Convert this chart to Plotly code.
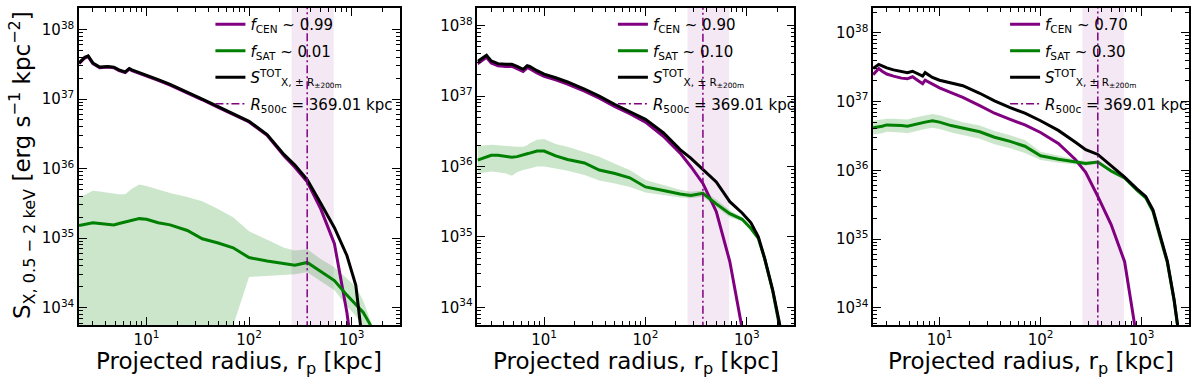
import numpy as np
import plotly.graph_objects as go

# projected radius grid [kpc]
radius = [2.2, 2.5, 2.7, 3.0, 3.5, 4.2, 4.8, 5.4, 6.2, 6.8, 7.2, 8.5, 10, 13, 17, 25, 35, 50,
          70, 100, 150, 220, 280, 369, 500, 680, 900, 1100, 1300, 1500, 1800, 2100, 2400]

# log10 surface brightness [erg s^-1 kpc^-2]
# panel 1 : f_cen ~ 0.99
tot_1 = [37.52, 37.60, 37.62, 37.52, 37.46, 37.47, 37.46, 37.42, 37.39, 37.44, 37.42, 37.38, 37.35, 37.28,
         37.21, 37.10, 37.00, 36.89, 36.79, 36.68, 36.49, 36.20, 36.05, 35.84, 35.50, 35.15, 34.75, 34.32,
         33.40, 32.5, 32.0, 31.5, 31.0]
cen_1 = [37.51, 37.59, 37.61, 37.51, 37.45, 37.46, 37.45, 37.41, 37.38, 37.43, 37.41, 37.37, 37.34, 37.27,
         37.20, 37.09, 36.99, 36.88, 36.78, 36.67, 36.48, 36.18, 36.02, 35.81, 35.42, 34.92, 33.93, 32.8,
         32.0, 31.5, 31.0, 30.5, 30.0]
sat_1 = [35.18, 35.20, 35.21, 35.22, 35.21, 35.20, 35.19, 35.21, 35.23, 35.24, 35.25, 35.28, 35.27, 35.22,
         35.19, 35.11, 34.99, 34.93, 34.86, 34.72, 34.67, 34.63, 34.61, 34.65, 34.52, 34.39, 34.18, 34.05,
         33.93, 33.77, 33.5, 33.2, 33.0]
sat_hi_1 = [35.58, 35.62, 35.65, 35.68, 35.67, 35.65, 35.64, 35.63, 35.63, 35.68, 35.71, 35.77, 35.75, 35.70,
            35.65, 35.59, 35.53, 35.42, 35.30, 35.10, 34.98, 34.86, 34.82, 34.84, 34.70, 34.58, 34.42, 34.30,
            34.10, 33.85, 33.5, 33.2, 33.0]
sat_lo_1 = [32.5, 32.5, 32.5, 32.5, 32.5, 32.5, 32.5, 32.5, 32.5, 32.5, 32.5, 32.5, 32.5, 32.5,
            32.5, 32.5, 32.5, 33.0, 33.74, 34.44, 34.46, 34.47, 34.48, 34.51, 34.38, 34.25, 34.02, 33.88,
            33.72, 33.4, 33.0, 32.7, 32.5]

# panel 2 : f_cen ~ 0.90
tot_2 = [37.49, 37.55, 37.58, 37.50, 37.46, 37.45, 37.45, 37.42, 37.38, 37.43, 37.42, 37.36, 37.31, 37.26,
         37.20, 37.10, 37.00, 36.88, 36.78, 36.67, 36.48, 36.24, 36.12, 35.96, 35.78, 35.50, 35.34, 35.20,
         35.00, 34.70, 34.25, 33.78, 33.30]
cen_2 = [37.46, 37.52, 37.55, 37.47, 37.43, 37.42, 37.42, 37.39, 37.35, 37.40, 37.39, 37.33, 37.28, 37.23,
         37.17, 37.07, 36.97, 36.85, 36.75, 36.63, 36.43, 36.19, 36.00, 35.76, 35.36, 34.65, 33.70, 32.5,
         32.0, 31.5, 31.0, 30.5, 30.0]
sat_2 = [36.09, 36.12, 36.14, 36.16, 36.16, 36.14, 36.13, 36.14, 36.17, 36.18, 36.19, 36.22, 36.22, 36.15,
         36.10, 36.05, 35.95, 35.90, 35.84, 35.71, 35.66, 35.61, 35.59, 35.62, 35.47, 35.33, 35.25, 35.12,
         34.98, 34.69, 34.24, 33.77, 33.30]
sat_hi_2 = [36.29, 36.30, 36.31, 36.31, 36.30, 36.29, 36.28, 36.28, 36.28, 36.30, 36.33, 36.38, 36.39, 36.32,
            36.28, 36.21, 36.14, 36.04, 35.95, 35.81, 35.74, 35.67, 35.64, 35.66, 35.53, 35.38, 35.28, 35.14,
            35.00, 34.71, 34.26, 33.79, 33.31]
sat_lo_2 = [35.90, 35.91, 35.92, 35.93, 35.92, 35.90, 35.87, 35.92, 35.95, 35.96, 35.97, 36.00, 36.00, 35.97,
            35.94, 35.88, 35.80, 35.76, 35.71, 35.63, 35.59, 35.56, 35.55, 35.57, 35.42, 35.28, 35.22, 35.10,
            34.96, 34.67, 34.22, 33.75, 33.29]

# panel 3 : f_cen ~ 0.70
tot_3 = [37.48, 37.54, 37.52, 37.49, 37.46, 37.44, 37.42, 37.44, 37.40, 37.37, 37.42, 37.35, 37.31, 37.27,
         37.23, 37.12, 37.01, 36.91, 36.83, 36.72, 36.58, 36.41, 36.30, 36.23, 36.07, 35.90, 35.73, 35.62,
         35.42, 35.08, 34.68, 34.12, 33.50]
cen_3 = [37.39, 37.48, 37.44, 37.40, 37.37, 37.34, 37.33, 37.36, 37.30, 37.26, 37.31, 37.25, 37.20, 37.13,
         37.06, 36.94, 36.83, 36.74, 36.66, 36.55, 36.39, 36.16, 35.97, 35.62, 35.21, 34.67, 33.40, 32.5,
         32.0, 31.5, 31.0, 30.5, 30.0]
sat_3 = [36.62, 36.63, 36.64, 36.66, 36.66, 36.65, 36.64, 36.66, 36.68, 36.69, 36.70, 36.72, 36.70, 36.65,
         36.61, 36.56, 36.48, 36.42, 36.35, 36.21, 36.16, 36.12, 36.10, 36.12, 35.99, 35.89, 35.71, 35.60,
         35.40, 35.07, 34.66, 34.11, 33.50]
sat_hi_3 = [36.72, 36.73, 36.74, 36.75, 36.75, 36.75, 36.74, 36.76, 36.78, 36.79, 36.80, 36.82, 36.80, 36.75,
            36.70, 36.65, 36.57, 36.51, 36.44, 36.27, 36.21, 36.16, 36.13, 36.14, 36.02, 35.92, 35.73, 35.62,
            35.42, 35.09, 34.68, 34.13, 33.52]
sat_lo_3 = [36.52, 36.53, 36.54, 36.56, 36.56, 36.55, 36.54, 36.56, 36.58, 36.59, 36.60, 36.62, 36.60, 36.55,
            36.51, 36.46, 36.38, 36.32, 36.25, 36.15, 36.11, 36.08, 36.07, 36.09, 35.96, 35.86, 35.69, 35.58,
            35.38, 35.05, 34.64, 34.09, 33.48]

f_cen = ['0.99', '0.90', '0.70']
f_sat = ['0.01', '0.10', '0.30']
r500c = 369.01
r500c_band = [260, 670]
y_ranges = [[33.75, 38.31], [33.75, 38.25], [33.75, 38.36]]

x_decades = [0, 1, 2, 3]
y_decades = [33, 34, 35, 36, 37, 38]

x_title = 'Projected radius, r<sub>p</sub> [kpc]'
y_title = 'S<sub>X, 0.5 − 2 keV</sub> [erg s<sup>−1</sup> kpc<sup>−2</sup>]'

panels = [
    (tot_1, cen_1, sat_1, sat_hi_1, sat_lo_1),
    (tot_2, cen_2, sat_2, sat_hi_2, sat_lo_2),
    (tot_3, cen_3, sat_3, sat_hi_3, sat_lo_3),
]

# plot area is 79..1193 px wide, 8..325 px high
x_domains = [[0.0, 0.289], [0.359, 0.6445], [0.7154, 1.0]]
legend_x = [0.1184, 0.481, 0.8343]

FONT = 'DejaVu Sans'
PURPLE = '#800080'
GREEN = '#008000'


def log_ticks(decades):
    major = [10.0 ** d for d in decades]
    text = ['10<sup>%d</sup>' % d for d in decades]
    minor = [m * 10.0 ** d for d in decades for m in range(2, 10)]
    return major, text, minor


fig = go.Figure()

for i, (tot, cen, sat, hi, lo) in enumerate(panels):
    n = '' if i == 0 else str(i + 1)
    xa, ya, lg = 'x' + n, 'y' + n, 'legend' + n

    fig.add_trace(go.Scatter(x=radius, y=np.power(10.0, lo), mode='lines', line=dict(width=0),
                             showlegend=False, hoverinfo='skip', xaxis=xa, yaxis=ya))
    fig.add_trace(go.Scatter(x=radius, y=np.power(10.0, hi), mode='lines', line=dict(width=0),
                             fill='tonexty', fillcolor='rgba(0,128,0,0.2)',
                             showlegend=False, hoverinfo='skip', xaxis=xa, yaxis=ya))
    fig.add_trace(go.Scatter(x=radius, y=np.power(10.0, cen), mode='lines',
                             line=dict(color=PURPLE, width=3), legendgroup='cen' + n,
                             name='<i>f</i><sub>CEN</sub> ~ ' + f_cen[i], legend=lg, xaxis=xa, yaxis=ya))
    fig.add_trace(go.Scatter(x=radius, y=np.power(10.0, sat), mode='lines',
                             line=dict(color=GREEN, width=3), legendgroup='sat' + n,
                             name='<i>f</i><sub>SAT</sub> ~ ' + f_sat[i], legend=lg, xaxis=xa, yaxis=ya))
    fig.add_trace(go.Scatter(x=radius, y=np.power(10.0, tot), mode='lines',
                             line=dict(color='black', width=3), legendgroup='tot' + n,
                             name='<i>S</i><sup>TOT</sup><sub>X, ± R<sub>±200m</sub></sub>',
                             legend=lg, xaxis=xa, yaxis=ya))
    fig.add_trace(go.Scatter(x=[r500c, r500c], y=[1e33, 1e39], mode='lines',
                             line=dict(color=PURPLE, width=1.5, dash='8px,3px,2px,3px'),
                             legendgroup='r500' + n,
                             name='<i>R</i><sub>500c</sub> = 369.01 kpc', legend=lg, xaxis=xa, yaxis=ya))

    fig.add_shape(type='rect', xref=xa, yref=ya + ' domain', x0=r500c_band[0], x1=r500c_band[1],
                  y0=0, y1=1, fillcolor='rgba(128,0,128,0.09)', line=dict(width=0), layer='below')

    # x axis title, centred under each panel
    fig.add_annotation(text=x_title, xref='paper', yref='paper',
                       x=(x_domains[i][0] + x_domains[i][1]) / 2, y=-0.12,
                       xanchor='center', yanchor='middle', showarrow=False,
                       font=dict(family=FONT, size=23, color='black'))

    xmaj, xtxt, xmin = log_ticks(x_decades)
    ymaj, ytxt, ymin = log_ticks(y_decades)
    axis_common = dict(
        type='log', showline=True, linecolor='black', linewidth=1.5, mirror='allticks',
        ticks='inside', ticklen=8, tickwidth=1, tickcolor='black', showgrid=False, zeroline=False,
        tickfont=dict(family=FONT, size=15, color='black'), automargin=False,
    )
    fig.update_layout({
        'xaxis' + n: dict(axis_common, domain=x_domains[i], range=[0.342, 3.47], anchor=ya,
                          tickmode='array', tickvals=xmaj, ticktext=xtxt,
                          minor=dict(ticks='inside', ticklen=4, tickwidth=0.8, tickcolor='black',
                                     tickmode='array', tickvals=xmin, showgrid=False)),
        'yaxis' + n: dict(axis_common, domain=[0, 1], range=y_ranges[i], anchor=xa,
                          tickmode='array', tickvals=ymaj, ticktext=ytxt,
                          minor=dict(ticks='inside', ticklen=4, tickwidth=0.8, tickcolor='black',
                                     tickmode='array', tickvals=ymin, showgrid=False)),
        lg: dict(x=legend_x[i], y=1.0, xanchor='left', yanchor='top', bgcolor='rgba(0,0,0,0)',
                 font=dict(family=FONT, size=15, color='black'), traceorder='grouped',
                 tracegroupgap=4, itemwidth=30),
    })

# y axis title on the left panel only
fig.add_annotation(text=y_title, xref='paper', yref='paper', x=-0.0512, y=0.505,
                   xanchor='center', yanchor='middle', textangle=-90, showarrow=False,
                   font=dict(family=FONT, size=23, color='black'))

fig.update_layout(
    width=1200, height=384,
    margin=dict(l=79, r=7, t=8, b=59),
    plot_bgcolor='white', paper_bgcolor='white',
    font=dict(family=FONT, color='black'),
)

# page body margin would push the fixed-size figure off the window
fig.write_html('out.html', config={'displayModeBar': False},
               post_script="document.body.style.margin = '0';")
